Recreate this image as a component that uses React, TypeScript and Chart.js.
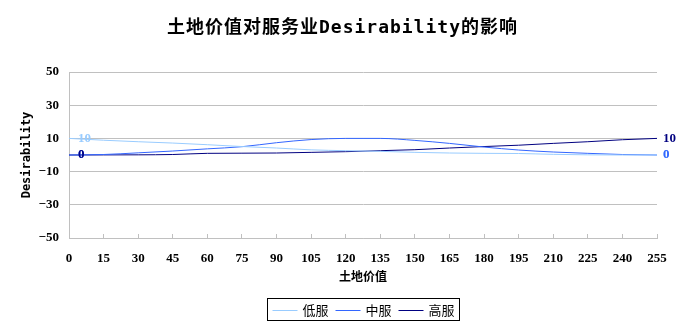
import React, { useEffect, useRef } from "react";
import { Chart, registerables } from "chart.js";

Chart.register(...registerables);

const TITLE = "土地价值对服务业Desirability的影响";
const X_TITLE = "土地价值";
const Y_TITLE = "Desirability";

const landValues = [0, 15, 30, 45, 60, 75, 90, 105, 120, 135, 150, 165, 180, 195, 210, 225, 240, 255];
const seriesNames = ["低服", "中服", "高服"];
const seriesColors = ["#99CCFF", "#3366FF", "#000080"];
const lowValues = [10, 8.9, 8.0, 7.2, 6.2, 5.1, 4.2, 3.1, 2.6, 2.2, 1.6, 1.2, 1.0, 0.9, 0.4, 0.1, 0, 0];
const midValues = [0, 0.3, 1.3, 2.4, 3.7, 5.0, 7.4, 9.3, 10, 10, 8.8, 7.0, 4.8, 3.0, 1.8, 1.0, 0.3, 0];
const highValues = [0, 0.05, 0.1, 0.3, 1.0, 1.1, 1.2, 1.6, 2.0, 2.6, 3.2, 4.2, 5.1, 5.9, 7.0, 8.0, 9.2, 10];
const yMin = -50;
const yMax = 50;
const yStep = 20;
const xMin = 0;
const xMax = 255;
const xStep = 15;

const GRID = "#C0C0C0";
const TICK_FONT = { family: '"Liberation Serif", "DejaVu Serif", serif', size: 13, weight: "bold" as const };

const titlePlugin = {
  id: "titleText",
  afterDraw(chart: any) {
    const ctx = chart.ctx;
    ctx.save();
    ctx.font = 'bold 18px "DejaVu Sans Mono", "Noto Sans CJK SC", monospace';
    try { (ctx as any).letterSpacing = "1px"; } catch (e) {}
    ctx.fillStyle = "#000";
    ctx.textAlign = "center";
    ctx.textBaseline = "middle";
    ctx.fillText(TITLE, chart.width / 2, 28);
    ctx.restore();
  },
};

const endLabelPlugin = {
  id: "endLabels",
  afterDatasetsDraw(chart: any) {
    const ctx = chart.ctx;
    ctx.save();
    ctx.font = 'bold 13px "Liberation Serif", "DejaVu Serif", serif';
    ctx.textAlign = "left";
    ctx.textBaseline = "middle";
    chart.data.datasets.forEach((ds: any, i: number) => {
      const meta = chart.getDatasetMeta(i);
      const pts = meta.data;
      if (!pts.length) return;
      const first = pts[0];
      const last = pts[pts.length - 1];
      ctx.fillStyle = ds.borderColor;
      ctx.fillText(String(ds.data[0].y), first.x + 9, first.y);
      ctx.fillText(String(ds.data[ds.data.length - 1].y), last.x + 6, last.y);
    });
    ctx.restore();
  },
};

const legendPlugin = {
  id: "boxLegend",
  afterDraw(chart: any) {
    const ctx = chart.ctx;
    ctx.save();
    ctx.font = '13px "Noto Sans CJK SC", sans-serif';
    const sample = 25;
    const gap = 5;
    const itemGap = 7;
    const pad = 5;
    const ds = chart.data.datasets;
    const widths = ds.map((d: any) => ctx.measureText(d.label).width);
    let total = pad * 2;
    widths.forEach((w: number, i: number) => {
      total += sample + gap + w + (i < ds.length - 1 ? itemGap : 0);
    });
    const cx = (chart.chartArea.left + chart.chartArea.right) / 2;
    const left = Math.round(cx - total / 2) + 0.5;
    const top = 298.5;
    const h = 22;
    ctx.strokeStyle = "#000";
    ctx.lineWidth = 1;
    ctx.strokeRect(left, top, Math.round(total), h);
    let x = left + pad;
    const cy = top + h / 2;
    ds.forEach((d: any, i: number) => {
      ctx.strokeStyle = d.borderColor;
      ctx.beginPath();
      ctx.moveTo(x, Math.round(cy) + 0.5);
      ctx.lineTo(x + sample, Math.round(cy) + 0.5);
      ctx.stroke();
      x += sample + gap;
      ctx.fillStyle = "#000";
      ctx.textAlign = "left";
      ctx.textBaseline = "middle";
      ctx.fillText(d.label, x, cy + 1);
      x += widths[i] + itemGap;
    });
    ctx.restore();
  },
};

export default function App() {
  const ref = useRef<HTMLCanvasElement | null>(null);
  useEffect(() => {
    if (!ref.current) return;
    const series = [lowValues, midValues, highValues];
    const chart = new Chart(ref.current, {
      type: "line",
      data: {
        datasets: series.map((vals, i) => ({
          label: seriesNames[i],
          data: landValues.map((x, j) => ({ x, y: vals[j] })),
          borderColor: seriesColors[i],
          backgroundColor: seriesColors[i],
          borderWidth: 1,
          pointRadius: 0,
          tension: 0.4,
          cubicInterpolationMode: "monotone" as const,
          fill: false,
        })),
      },
      options: {
        animation: false,
        responsive: false,
        devicePixelRatio: 1,
        layout: { padding: { top: 72, left: 0, right: 28, bottom: 40 } },
        plugins: {
          legend: { display: false },
          title: { display: false },
          tooltip: { enabled: false },
        },
        scales: {
          x: {
            type: "linear",
            min: xMin,
            max: xMax,
            afterFit: (s: any) => { s.height = 50; },
            ticks: { stepSize: xStep, color: "#000", font: TICK_FONT, padding: 17, maxRotation: 0, autoSkip: false },
            grid: { drawOnChartArea: false, drawTicks: true, tickLength: -4, color: GRID },
            border: { display: true, color: GRID },
            title: {
              display: true,
              text: X_TITLE,
              color: "#000",
              font: { family: '"Noto Sans CJK SC", sans-serif', size: 12, weight: "bold" },
              padding: { top: 0, bottom: 4 },
            },
          },
          y: {
            type: "linear",
            min: yMin,
            max: yMax,
            afterFit: (s: any) => { s.width = 69; },
            ticks: {
              stepSize: yStep,
              color: "#000",
              font: TICK_FONT,
              padding: 10,
              callback: (v: any) => (Number(v) < 0 ? "−" + Math.abs(Number(v)) : String(v)),
            },
            grid: { color: GRID, drawTicks: false },
            border: { display: true, color: GRID },
            title: {
              display: true,
              text: Y_TITLE,
              color: "#000",
              font: { family: '"DejaVu Sans Mono", monospace', size: 12, weight: "bold" },
              padding: { top: 20, bottom: 0 },
            },
          },
        },
      },
      plugins: [titlePlugin, endLabelPlugin, legendPlugin],
    });
    return () => chart.destroy();
  }, []);
  return (
    <div style={{ position: "absolute", left: 0, top: 0, width: 685, height: 328, background: "#fff" }}>
      <canvas ref={ref} width={685} height={328} style={{ display: "block" }} />
    </div>
  );
}
